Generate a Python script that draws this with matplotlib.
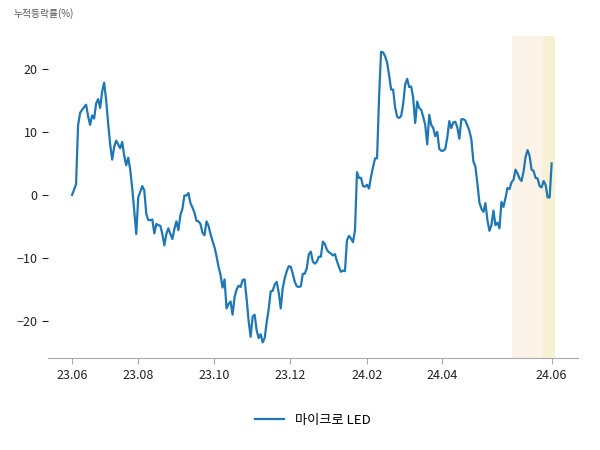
import matplotlib
matplotlib.use('Agg')
import matplotlib.pyplot as plt
import numpy as np
import pandas as pd

plt.rcParams['font.family'] = ['Noto Sans CJK KR', 'DejaVu Sans']

# 누적등락률 (%), 23.06.09 ~ 24.06.28
start_date = '2023-06-09'
end_date = '2024-06-28'
series_name = '마이크로 LED'
cum_return = [
    0.0, 0.8, 1.7, 11.0, 13.0, 13.5, 13.9, 14.3, 12.5, 11.1,
    12.6, 12.1, 14.5, 15.2, 13.8, 16.4, 17.8, 15.0, 11.3, 8.0,
    5.6, 7.6, 8.6, 8.0, 7.4, 8.4, 6.2, 4.7, 5.9, 4.0,
    1.0, -2.5, -6.2, -0.4, 0.5, 1.4, 0.7, -3.0, -4.0, -4.0,
    -3.9, -6.1, -4.6, -4.8, -4.9, -6.2, -8.0, -6.2, -5.3, -6.2,
    -7.0, -5.4, -4.2, -5.6, -3.2, -2.2, -0.1, -0.1, 0.3, -1.3,
    -2.0, -2.8, -4.1, -4.2, -4.6, -6.0, -6.4, -4.2, -4.9, -6.2,
    -7.3, -8.3, -9.7, -11.4, -12.7, -14.7, -13.4, -18.0, -17.3, -16.9,
    -19.0, -16.2, -15.0, -14.4, -14.6, -13.5, -13.4, -16.5, -20.0, -22.5,
    -19.3, -19.0, -21.5, -22.7, -22.1, -23.4, -22.7, -20.2, -18.1, -15.3,
    -15.2, -14.2, -13.8, -15.5, -18.0, -14.8, -13.2, -12.1, -11.3, -11.4,
    -12.5, -13.8, -14.5, -14.6, -14.5, -12.5, -12.5, -11.6, -9.4, -9.0,
    -10.6, -10.9, -10.6, -9.8, -9.8, -7.4, -7.8, -8.7, -9.1, -9.3,
    -9.6, -9.4, -10.5, -11.4, -12.2, -12.0, -12.1, -7.2, -6.5, -6.9,
    -7.5, -5.6, 3.6, 2.7, 2.7, 1.4, 1.3, 1.6, 1.0, 2.9,
    4.4, 5.8, 5.8, 15.5, 22.7, 22.6, 22.0, 21.0, 19.0, 16.7,
    16.7, 13.9, 12.4, 12.2, 12.5, 14.4, 17.5, 18.4, 17.1, 17.2,
    15.4, 11.4, 14.8, 13.8, 13.5, 12.4, 11.1, 8.0, 12.7, 11.1,
    10.6, 9.3, 10.0, 7.3, 7.0, 7.0, 7.3, 9.1, 11.7, 10.6,
    11.5, 11.6, 10.7, 8.9, 12.0, 12.0, 11.8, 11.0, 10.2, 8.8,
    5.3, 4.5, 1.8, -1.2, -2.2, -2.7, -1.3, -4.0, -5.7, -4.8,
    -2.5, -4.8, -4.4, -5.3, -1.1, -1.9, -0.5, 1.1, 0.9, 2.0,
    2.4, 4.0, 3.4, 2.6, 2.2, 3.7, 6.0, 7.1, 6.2, 4.0,
    3.8, 2.7, 2.6, 1.4, 1.2, 2.2, 1.6, -0.4, -0.4, 5.0,
]
month_span = ('2024-05-27', '2024-06-21')
week_span = ('2024-06-21', '2024-07-01')
tick_dates = [start_date, '2023-08-01', '2023-10-01', '2023-12-01',
              '2024-02-01', '2024-04-01', end_date]

dates = pd.date_range(start_date, end_date, periods=len(cum_return))

fig = plt.figure(figsize=(6, 4.5), dpi=100)
ax = fig.add_axes([0.08, 0.204, 0.883, 0.716])

# 최근 1개월 / 1주 구간 음영
ax.axvspan(pd.Timestamp(month_span[0]), pd.Timestamp(month_span[1]),
           color='#fbf2e8', lw=0, zorder=0)
ax.axvspan(pd.Timestamp(week_span[0]), pd.Timestamp(week_span[1]),
           color='#f6f1d3', lw=0, zorder=0)
ax.plot(dates, cum_return, color='#1f77b4', lw=1.6, label=series_name)

ax.set_xlim(pd.Timestamp(start_date) - pd.Timedelta(days=19.3),
            pd.Timestamp(end_date) + pd.Timedelta(days=21))
ax.set_ylim(-25.9, 25.2)
ax.set_yticks([-20, -10, 0, 10, 20])

ticks = [pd.Timestamp(d) for d in tick_dates]
ax.set_xticks(ticks)
ax.set_xticklabels([t.strftime('%y.%m') for t in ticks])

for s in ['top', 'right', 'left']:
    ax.spines[s].set_visible(False)
ax.spines['bottom'].set_color('#aaaaaa')
ax.tick_params(axis='x', colors='#aaaaaa', labelcolor='#222222', labelsize=9, length=4)
ax.tick_params(axis='y', colors='#222222', labelsize=9, length=4, width=0.8)

fig.text(0.022, 0.97, '누적등락률(%)', fontsize=7, color='#555555', va='center')

ax.legend(loc='upper center', bbox_to_anchor=(0.5, -0.135), frameon=False,
          fontsize=9.5, handlelength=2.2)

fig.savefig('out.png', dpi=100)
